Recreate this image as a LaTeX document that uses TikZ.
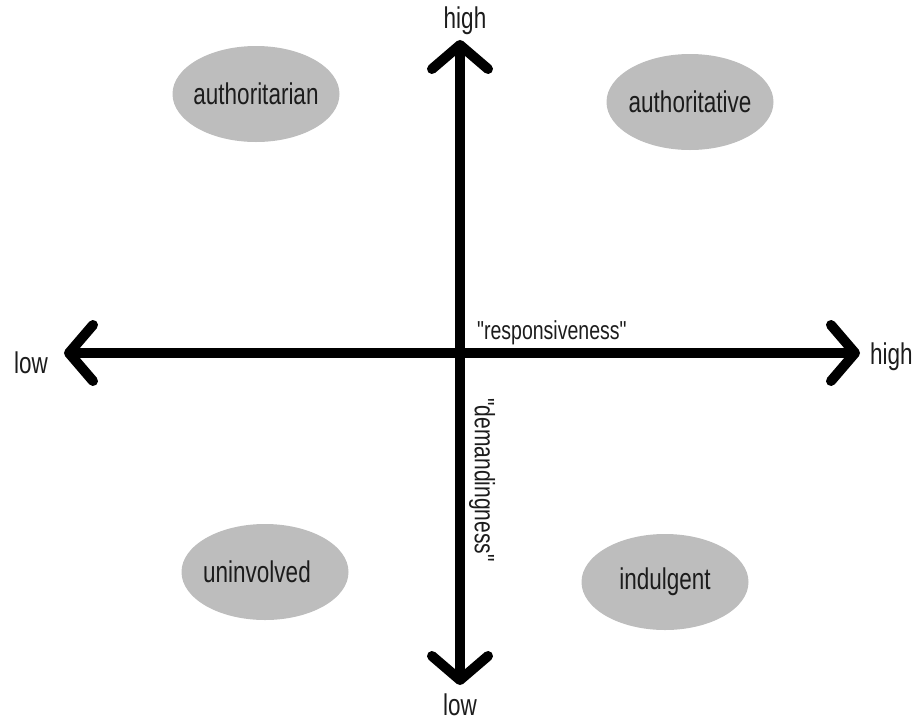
\documentclass[tikz,border=0pt]{standalone}
\usepackage{fontspec}
\usepackage{xcolor}
\usepackage{tikz}
\usetikzlibrary{positioning, arrows.meta, shapes.geometric}
\newfontfamily\handfont[FakeStretch=0.75]{Liberation Sans}
\definecolor{blobgray}{HTML}{BDBDBD}
\definecolor{inkblack}{HTML}{1C1C1C}

\begin{document}
\begin{tikzpicture}[x=1pt, y=-1pt,
    hand/.style={font=\handfont\fontsize{30}{32}\selectfont, text=inkblack, inner sep=0pt},
    handsmall/.style={hand, font=\handfont\fontsize{26}{28}\selectfont},
    blob/.style={ellipse, fill=blobgray, minimum width=167pt, minimum height=96pt, inner sep=0pt},
    axis/.style={line width=10pt, >={Straight Barb[length=24pt, width=56pt, round]}, <->}]
  \useasboundingbox (0,0) rectangle (915,721);

  % axes
  \coordinate (origin) at (460,353);
  \coordinate (top) at (460,40);
  \coordinate (bottom) at (460,685);
  \coordinate (left) at (64,353);
  \coordinate (right) at (860,353);
  \draw[axis] (left) -- (right);
  \draw[axis] (bottom) -- (top);

  \node[hand, above=5pt of top, xshift=5pt] (tophigh) {high};
  \node[hand, below=9pt of bottom] (bottomlow) {low};
  \node[hand, left=16pt of left, yshift=-10pt] (leftlow) {low};
  \node[hand, right=10pt of right, yshift=-4pt] (righthigh) {high};

  \node[handsmall, above right=8pt and 17pt of origin] (resp) {"responsiveness"};
  \node[hand, font=\handfont\fontsize{28}{30}\selectfont, rotate=-90] (dem) at (482,480) {"demandingness"};

  % the four styles
  \node[blob, label={[hand]center:authoritarian}] (authoritarian) at (256,94) {};
  \node[blob, label={[hand]center:authoritative}] (authoritative) at (690,102) {};
  \node[blob, label={[hand, xshift=-8pt]center:uninvolved}] (uninvolved) at (265,572) {};
  \node[blob, label={[hand]center:indulgent}] (indulgent) at (665,582) {};
\end{tikzpicture}
\end{document}
